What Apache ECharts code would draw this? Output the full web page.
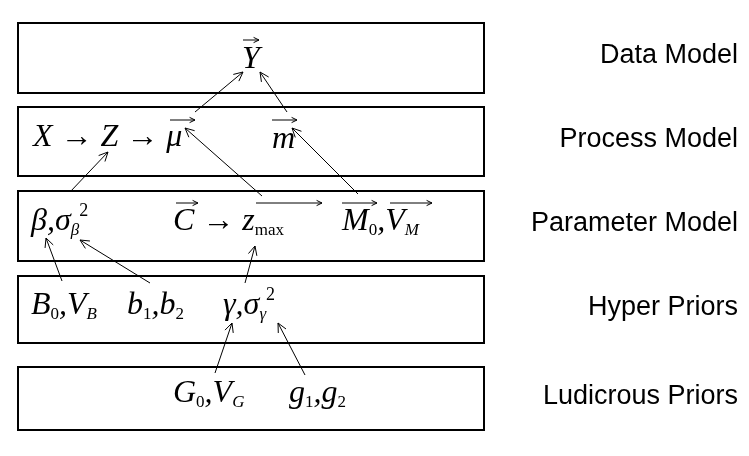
<!DOCTYPE html>
<html>
<head>
<meta charset="utf-8">
<script src="https://cdn.jsdelivr.net/npm/echarts@6/dist/echarts.min.js"></script>
<style>html,body{margin:0;background:#fff}#main{width:749px;height:456px}</style>
</head>
<body>
<div id="main"></div>
<script>
// layer names, top to bottom, with box top/bottom edges
var layers = ["Data Model", "Process Model", "Parameter Model", "Hyper Priors", "Ludicrous Priors"];
var boxTops = [23, 107, 191, 276, 367];
var boxBottoms = [93, 176, 261, 343, 430];

// formula pieces: [x, y, rich text]
var formulas = [
  [242, 60, "{m|Y}"],
  [33, 138, "{m|X → Z → μ}"],
  [272, 140, "{m|m}"],
  [31, 222, "{m|β,σ}{s|β}{p|2}"],
  [173, 222, "{m|C → z}{u|max}"],
  [342, 222, "{m|M}{u|0}{m|,V}{s|M}"],
  [31, 306, "{m|B}{u|0}{m|,V}{s|B}"],
  [127, 306, "{m|b}{u|1}{m|,b}{u|2}"],
  [223, 306, "{m|γ,σ}{s|γ}{p|2}"],
  [173, 394, "{m|G}{u|0}{m|,V}{s|G}"],
  [289, 394, "{m|g}{u|1}{m|,g}{u|2}"]
];

// vector bars over symbols: [x1, x2, y]
var vectors = [
  [243, 259, 40], [170, 195, 120], [272, 297, 120],
  [176, 198, 203], [256, 322, 203], [342, 377, 203], [390, 432, 203]
];

// influence arrows: [fromX, fromY, toX, toY]
var links = [
  [195, 112, 243, 72], [287, 112, 260, 72],
  [262, 196, 185, 128], [358, 194, 292, 128],
  [70, 192, 108, 152],
  [62, 281, 46, 238], [150, 283, 80, 240],
  [245, 283, 255, 246],
  [215, 373, 232, 323], [305, 375, 278, 323]
];

var myChart = echarts.init(document.getElementById("main"));
var g = [];
layers.forEach(function (name, i) {
  g.push({ type: "rect", shape: { x: 18, y: boxTops[i], width: 466, height: boxBottoms[i] - boxTops[i] },
    style: { fill: "#fff", stroke: "#000", lineWidth: 2 } });
  g.push({ type: "text", x: 738, y: (boxTops[i] + boxBottoms[i]) / 2 - 2,
    style: { text: name, font: "27px 'Liberation Sans', Arial", fill: "#000", align: "right", verticalAlign: "middle" } });
});
var rich = {
  m: { fontFamily: "Liberation Serif", fontStyle: "italic", fontSize: 32, lineHeight: 40, verticalAlign: "middle" },
  s: { fontFamily: "Liberation Serif", fontStyle: "italic", fontSize: 17, lineHeight: 40, verticalAlign: "bottom", padding: [0, 0, 3, 0] },
  u: { fontFamily: "Liberation Serif", fontSize: 17, lineHeight: 40, verticalAlign: "bottom", padding: [0, 0, 3, 0] },
  p: { fontFamily: "Liberation Serif", fontSize: 18, lineHeight: 40, verticalAlign: "top" }
};
formulas.forEach(function (f) {
  g.push({ type: "text", x: f[0], y: f[1],
    style: { text: f[2], rich: rich, fill: "#000", align: "left", verticalAlign: "middle" } });
});
function arrow(x1, y1, x2, y2, head) {
  var a = Math.atan2(y2 - y1, x2 - x1);
  g.push({ type: "line", shape: { x1: x1, y1: y1, x2: x2, y2: y2 }, style: { stroke: "#000", lineWidth: 1 } });
  [0.45, -0.45].forEach(function (d) {
    g.push({ type: "line", shape: { x1: x2, y1: y2, x2: x2 - head * Math.cos(a + d), y2: y2 - head * Math.sin(a + d) },
      style: { stroke: "#000", lineWidth: 1 } });
  });
}
vectors.forEach(function (v) { arrow(v[0], v[2], v[1], v[2], 6); });
links.forEach(function (l) { arrow(l[0], l[1], l[2], l[3], 10); });

var option = { animation: false, graphic: g };
option && myChart.setOption(option);
</script>
</body>
</html>
